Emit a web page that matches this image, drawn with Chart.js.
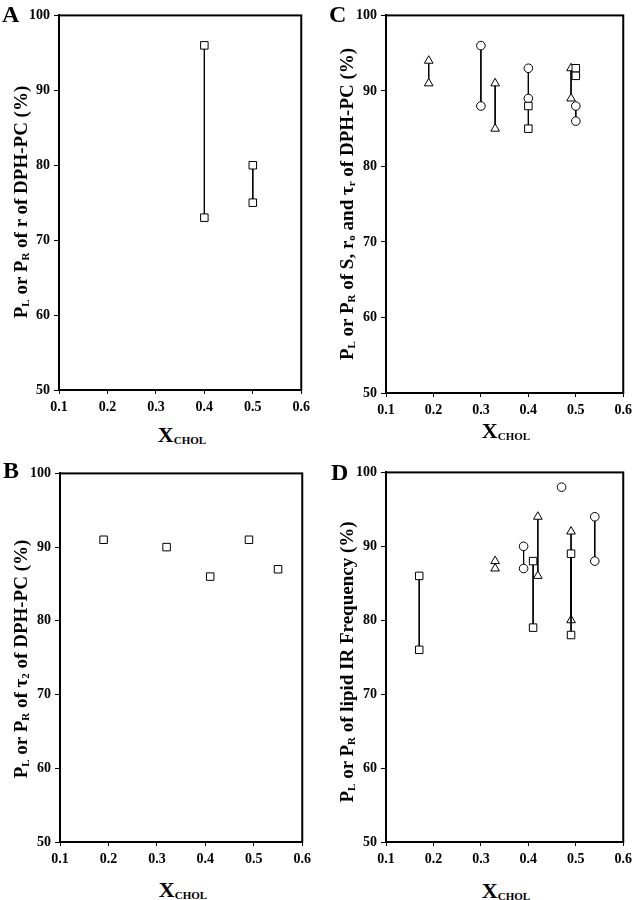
<!DOCTYPE html>
<html>
<head>
<meta charset="utf-8">
<script src="https://cdn.jsdelivr.net/npm/chart.js@4"></script>
<style>
  body { margin: 0; background: #fff; width: 638px; height: 900px; overflow: hidden; position: relative;
         font-family: "Liberation Serif", "Times New Roman", serif; font-weight: bold; color: #000; }
  canvas { position: absolute; }
  .letter { position: absolute; font-size: 24px; line-height: 1; z-index: 2; }
  .ytitle { position: absolute; white-space: nowrap; font-size: 19px; line-height: 1; z-index: 2;
            transform: translate(-50%, -50%) rotate(-90deg); }
  .ytitle sub { font-size: 11px; vertical-align: baseline; position: relative; top: 2px; }
  .xtitle { position: absolute; white-space: nowrap; font-size: 22px; line-height: 1; z-index: 2;
            transform: translate(-50%, -50%); }
  .xtitle sub { font-size: 11px; vertical-align: baseline; position: relative; top: 2px; }
</style>
</head>
<body>

<canvas id="chartA"></canvas>
<canvas id="chartB"></canvas>
<canvas id="chartC"></canvas>
<canvas id="chartD"></canvas>

<div class="letter" style="left:2px; top:2px;">A</div>
<div class="letter" style="left:3px; top:458px;">B</div>
<div class="letter" style="left:329px; top:2px;">C</div>
<div class="letter" style="left:331px; top:460px;">D</div>

<div class="ytitle" style="left:20px; top:202px;">P<sub>L</sub> or P<sub>R</sub> of r of DPH-PC (%)</div>
<div class="ytitle" style="left:20px; top:659px;">P<sub>L</sub> or P<sub>R</sub> of τ<sub>2</sub> of DPH-PC (%)</div>
<div class="ytitle" style="left:346px; top:204px;">P<sub>L</sub> or P<sub>R</sub> of S, r<sub>o</sub> and τ<sub>r</sub> of DPH-PC (%)</div>
<div class="ytitle" style="left:346px; top:662px;">P<sub>L</sub> or P<sub>R</sub> of lipid IR Frequency (%)</div>

<div class="xtitle" style="left:182px; top:435px;">X<sub>CHOL</sub></div>
<div class="xtitle" style="left:183px; top:890px;">X<sub>CHOL</sub></div>
<div class="xtitle" style="left:506px; top:431px;">X<sub>CHOL</sub></div>
<div class="xtitle" style="left:506px; top:891px;">X<sub>CHOL</sub></div>

<script>
/* ---------------- Data ---------------- */
const xTicks = [0.1, 0.2, 0.3, 0.4, 0.5, 0.6];
const yTicks = [50, 60, 70, 80, 90, 100];

// A: r of DPH-PC (squares, pairs)
const aSquareX  = [0.4, 0.5];
const aSquareHi = [96, 80];
const aSquareLo = [73, 75];

// B: tau2 of DPH-PC (single squares)
const bSquareX = [0.19, 0.32, 0.41, 0.49, 0.55];
const bSquareY = [91, 90, 86, 91, 87];

// C: S, r0 and tau_r of DPH-PC
const cTriX   = [0.19, 0.33, 0.49];
const cTriHi  = [94, 91, 93];
const cTriLo  = [91, 85, 89];
const cCircX  = [0.3, 0.4, 0.5];
const cCircHi = [96, 93, 88];
const cCircLo = [88, 89, 86];
const cSqX    = [0.4, 0.5];
const cSqHi   = [88, 93];
const cSqLo   = [85, 92];

// D: lipid IR frequency
const dSqX    = [0.17, 0.41, 0.49];
const dSqHi   = [86, 88, 89];
const dSqLo   = [76, 79, 78];
const dTriX   = [0.33, 0.42, 0.49];
const dTriHi  = [88, 94, 92];
const dTriLo  = [87, 86, 80];
const dCircX  = [0.39, 0.47, 0.54];
const dCircHi = [90, 98, 94];
const dCircLo = [87, null, 88];

/* ---------------- Marker styles ---------------- */
const markers = {
    rect:     { pointStyle: "rect",     pointRadius: 5.3 },
    circle:   { pointStyle: "circle",   pointRadius: 4.3 },
    triangle: { pointStyle: "triangle", pointRadius: 5 }
};

// one dataset per vertical pair (or single point)
function pairs(xs, hi, lo, style) {
    return xs.map((x, i) => {
        const pts = [{ x: x, y: hi[i] }];
        if (lo && lo[i] != null) pts.push({ x: x, y: lo[i] });
        return {
            data: pts,
            showLine: true,
            borderColor: "#000",
            borderWidth: 1,
            pointBackgroundColor: "#fff",
            pointBorderColor: "#000",
            pointBorderWidth: 1,
            pointHoverRadius: markers[style].pointRadius,
            ...markers[style]
        };
    });
}

/* ---------------- Frame plugin ---------------- */
const frame = {
    id: "frame",
    afterDraw(chart) {
        const a = chart.chartArea, ctx = chart.ctx;
        ctx.save();
        ctx.strokeStyle = "#000";
        ctx.lineWidth = 2;
        ctx.strokeRect(a.left, a.top, a.right - a.left, a.bottom - a.top);
        ctx.restore();
    }
};

/* ---------------- Panels ---------------- */
const PAD_L = 42, PAD_T = 12, PAD_R = 10, PAD_B = 30;

function makePanel(id, box, datasets, labelGap) {
    const cv = document.getElementById(id);
    const w = (box.right - box.left) + PAD_L + PAD_R;
    const h = (box.bottom - box.top) + PAD_T + PAD_B;
    cv.width = w; cv.height = h;
    cv.style.left = (box.left - PAD_L) + "px";
    cv.style.top = (box.top - PAD_T) + "px";
    cv.style.width = w + "px"; cv.style.height = h + "px";

    const tickFont = { family: "'Liberation Serif', 'Times New Roman', serif", size: 14, weight: "bold" };

    new Chart(cv, {
        type: "scatter",
        data: { datasets },
        options: {
            responsive: false,
            animation: false,
            devicePixelRatio: 1,
            layout: { padding: { top: PAD_T, right: PAD_R, left: 0, bottom: 0 } },
            plugins: { legend: { display: false }, tooltip: { enabled: false } },
            scales: {
                x: {
                    type: "linear",
                    min: xTicks[0], max: xTicks[xTicks.length - 1],
                    afterBuildTicks: s => { s.ticks = xTicks.map(v => ({ value: v })); },
                    afterFit: s => { s.height = PAD_B; },
                    ticks: { color: "#000", font: tickFont, padding: labelGap,
                             maxRotation: 0, callback: v => v.toFixed(1) },
                    grid: { drawOnChartArea: false, drawTicks: true, tickLength: 4, color: "#000", lineWidth: 1 },
                    border: { display: true, color: "#000", width: 2 }
                },
                y: {
                    type: "linear",
                    min: yTicks[0], max: yTicks[yTicks.length - 1],
                    afterBuildTicks: s => { s.ticks = yTicks.map(v => ({ value: v })); },
                    afterFit: s => { s.width = PAD_L; },
                    ticks: { color: "#000", font: tickFont, padding: 4 },
                    grid: { drawOnChartArea: false, drawTicks: true, tickLength: 5, color: "#000", lineWidth: 1 },
                    border: { display: true, color: "#000", width: 2 }
                }
            }
        },
        plugins: [frame]
    });
}

makePanel("chartA", { left: 59, top: 15, right: 305, bottom: 390 },
    pairs(aSquareX, aSquareHi, aSquareLo, "rect"), 5);

makePanel("chartB", { left: 60, top: 473, right: 306, bottom: 842 },
    pairs(bSquareX, bSquareY, null, "rect"), 5);

makePanel("chartC", { left: 386, top: 15, right: 627, bottom: 393 },
    [].concat(
        pairs(cSqX, cSqHi, cSqLo, "rect"),
        pairs(cCircX, cCircHi, cCircLo, "circle"),
        pairs(cTriX, cTriHi, cTriLo, "triangle")
    ), 5);

makePanel("chartD", { left: 386, top: 472, right: 627, bottom: 842 },
    [].concat(
        pairs(dSqX, dSqHi, dSqLo, "rect"),
        pairs(dCircX, dCircHi, dCircLo, "circle"),
        pairs(dTriX, dTriHi, dTriLo, "triangle")
    ), 5);
</script>
</body>
</html>
